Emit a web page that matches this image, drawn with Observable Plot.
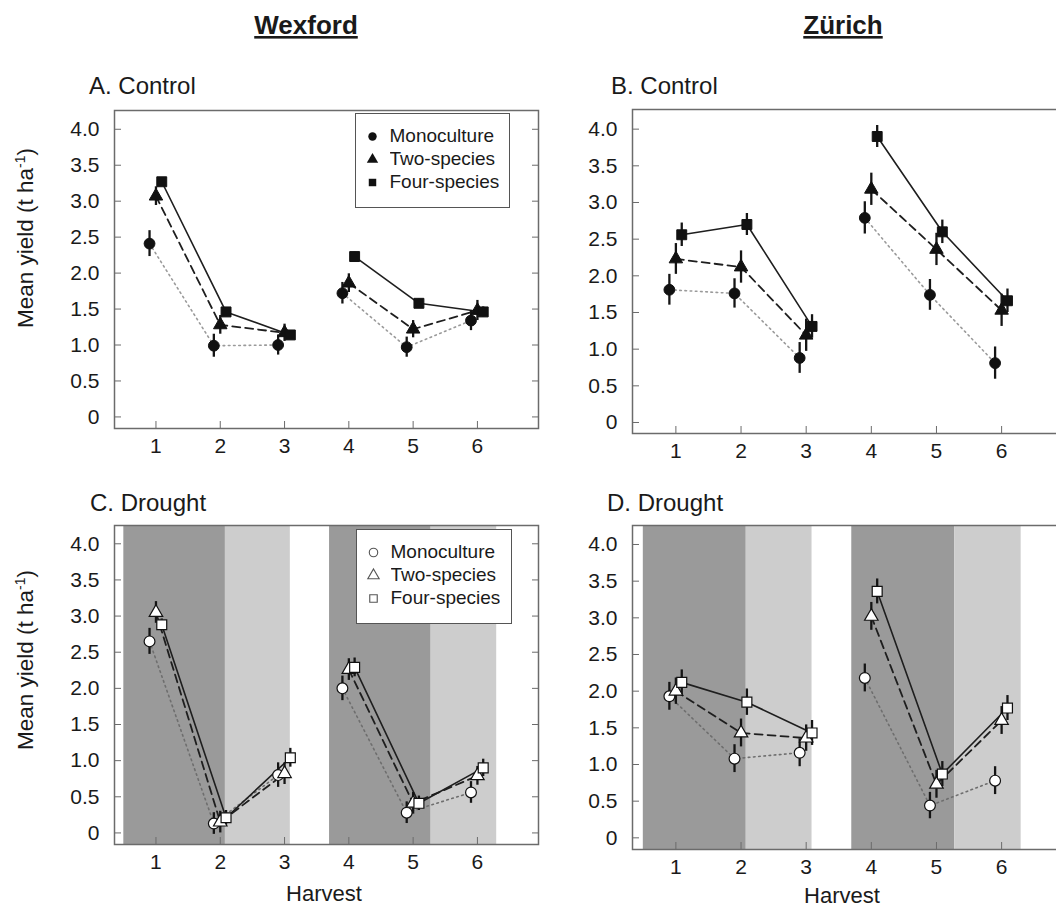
<!DOCTYPE html>
<html>
<head>
<meta charset="utf-8">
<script src="https://cdn.jsdelivr.net/npm/d3@7"></script>
<script src="https://cdn.jsdelivr.net/npm/@observablehq/plot@0.6"></script>
<style>
  html, body { margin: 0; padding: 0; background: #fff; }
  #wrap { position: relative; width: 1056px; height: 911px; overflow: hidden; background: #fff;
          font-family: "Liberation Sans", Arial, sans-serif; color: #1a1a1a; }
  .panel { position: absolute; }
  .panel svg { max-width: none !important; display: block; }
  .legend { position: absolute; box-sizing: border-box; border: 1.5px solid #555; background: #fff;
            padding: 11px 0 0 9px; }
  #labels { position: absolute; left: 0; top: 0; pointer-events: none; }
</style>
</head>
<body>
<div id="wrap">
  <div class="panel" id="pA" style="left:0px;top:100px;width:540px"></div>
  <div class="panel" id="pB" style="left:520px;top:100px;width:545px"></div>
  <div class="panel" id="pC" style="left:0px;top:515px;width:540px"></div>
  <div class="panel" id="pD" style="left:520px;top:515px;width:545px"></div>
  <div class="legend" id="legA" style="left:355px;top:113px;width:155px;height:95px"></div>
  <div class="legend" id="legC" style="left:356px;top:529px;width:156px;height:95px"></div>
  <svg id="labels" width="1056" height="911" font-family="Liberation Sans, Arial, sans-serif" fill="#1a1a1a">
    <text x="306" y="34" text-anchor="middle" font-size="26" font-weight="bold" text-decoration="underline">Wexford</text>
    <text x="843" y="34" text-anchor="middle" font-size="26" font-weight="bold" text-decoration="underline">Zürich</text>
    <text x="89" y="94" font-size="24">A. Control</text>
    <text x="611" y="94" font-size="24">B. Control</text>
    <text x="90" y="511" font-size="24">C. Drought</text>
    <text x="607" y="511" font-size="24">D. Drought</text>
    <text transform="translate(33,238) rotate(-90)" text-anchor="middle" font-size="22.5">Mean yield (t ha<tspan baseline-shift="super" font-size="14">-1</tspan>)</text>
    <text transform="translate(33,660) rotate(-90)" text-anchor="middle" font-size="22.5">Mean yield (t ha<tspan baseline-shift="super" font-size="14">-1</tspan>)</text>
    <text x="324" y="901" text-anchor="middle" font-size="22">Harvest</text>
    <text x="842" y="903" text-anchor="middle" font-size="22">Harvest</text>
  </svg>
</div>
<script>
// ---------- data ----------
const harvests = [1, 2, 3, 4, 5, 6];
const year = [1, 1, 1, 2, 2, 2];
const seriesNames = ["Monoculture", "Two-species", "Four-species"];
const yTicks = [0, 0.5, 1, 1.5, 2, 2.5, 3, 3.5, 4];
const yTickLabels = ["0", "0.5", "1.0", "1.5", "2.0", "2.5", "3.0", "3.5", "4.0"];

// A. Wexford control
const wexCtrlMono = [2.41, 0.99, 1.00, 1.72, 0.97, 1.34];
const wexCtrlTwo  = [3.07, 1.28, 1.17, 1.86, 1.22, 1.48];
const wexCtrlFour = [3.27, 1.46, 1.14, 2.23, 1.58, 1.46];
const wexCtrlMonoSE = [0.18, 0.16, 0.14, 0.15, 0.14, 0.14];
const wexCtrlTwoSE  = [0.13, 0.13, 0.12, 0.13, 0.12, 0.14];
const wexCtrlFourSE = [0.05, 0.06, 0.06, 0.06, 0.06, 0.07];

// B. Zürich control
const zurCtrlMono = [1.81, 1.76, 0.88, 2.79, 1.74, 0.81];
const zurCtrlTwo  = [2.23, 2.12, 1.19, 3.18, 2.36, 1.53];
const zurCtrlFour = [2.56, 2.70, 1.31, 3.90, 2.60, 1.66];
const zurCtrlMonoSE = [0.21, 0.20, 0.21, 0.22, 0.21, 0.22];
const zurCtrlTwoSE  = [0.21, 0.22, 0.22, 0.22, 0.22, 0.22];
const zurCtrlFourSE = [0.16, 0.15, 0.16, 0.15, 0.16, 0.16];

// C. Wexford drought
const wexDrMono = [2.65, 0.13, 0.80, 2.00, 0.28, 0.56];
const wexDrTwo  = [3.05, 0.15, 0.82, 2.26, 0.41, 0.79];
const wexDrFour = [2.88, 0.21, 1.04, 2.29, 0.41, 0.90];
const wexDrMonoSE = [0.18, 0.15, 0.17, 0.17, 0.15, 0.15];
const wexDrTwoSE  = [0.15, 0.15, 0.15, 0.15, 0.15, 0.13];
const wexDrFourSE = [0.08, 0.10, 0.13, 0.13, 0.10, 0.12];

// D. Zürich drought
const zurDrMono = [1.93, 1.08, 1.16, 2.18, 0.44, 0.78];
const zurDrTwo  = [2.00, 1.43, 1.36, 3.02, 0.73, 1.60];
const zurDrFour = [2.12, 1.85, 1.43, 3.36, 0.87, 1.77];
const zurDrMonoSE = [0.19, 0.19, 0.19, 0.19, 0.18, 0.19];
const zurDrTwoSE  = [0.18, 0.19, 0.18, 0.19, 0.19, 0.19];
const zurDrFourSE = [0.17, 0.18, 0.17, 0.17, 0.17, 0.17];

// drought shading periods (harvest units)
const shadeStart = [0.5, 2.08, 3.7, 5.28];
const shadeEnd   = [2.08, 3.09, 5.28, 6.3];
const shadeKind  = ["dark", "light", "dark", "light"];

// ---------- drawing ----------
const dodge = [-0.1, 0, 0.09];
const symbols = ["circle", "triangle", "square"];
const symR = [5.4, 5.0, 5.6];
const FONT = "Liberation Sans, Arial, sans-serif";

function rowsFor(vals, ses) {
  return seriesNames.flatMap((s, k) => harvests.map((h, i) => ({
    series: s, k, harvest: h, year: year[i], v: vals[k][i], se: ses[k][i]
  })));
}

function panel(opts) {
  const {vals, ses, drought, xDomain, yDomain, width, height, marginLeft, marginRight, marginTop, marginBottom} = opts;
  const rows = rowsFor(vals, ses);
  const X = d => d.harvest + dodge[d.k];
  const shades = shadeStart.map((s, i) => ({start: s, end: shadeEnd[i], kind: shadeKind[i]}));
  const lineStyles = [
    {stroke: drought ? "#6e6e6e" : "#9a9a9a", strokeDasharray: "1.6,3.6", strokeWidth: 1.6},
    {stroke: "#1e1e1e", strokeDasharray: "8,5", strokeWidth: 1.8},
    {stroke: "#1e1e1e", strokeWidth: 1.6}
  ];
  const marks = [];
  if (drought) {
    marks.push(Plot.rect(shades.filter(d => d.kind === "dark"), {x1: "start", x2: "end", fill: "#9a9a9a"}));
    marks.push(Plot.rect(shades.filter(d => d.kind === "light"), {x1: "start", x2: "end", fill: "#cdcdcd"}));
  }
  for (let k = 0; k < 3; k++) {
    marks.push(Plot.line(rows.filter(d => d.k === k), {x: X, y: "v", z: "year", ...lineStyles[k]}));
  }
  marks.push(Plot.ruleX(rows, {x: X, y1: d => d.v - d.se, y2: d => d.v + d.se, stroke: "#151515", strokeWidth: 2.3}));
  for (let k = 0; k < 3; k++) {
    marks.push(Plot.dot(rows.filter(d => d.k === k), {
      x: X, y: "v", symbol: symbols[k], r: symR[k],
      fill: drought ? "white" : "#111", stroke: "#111", strokeWidth: drought ? 1.2 : 1
    }));
  }
  marks.push(Plot.frame({stroke: "#6b6b6b", strokeWidth: 1.5}));
  marks.push(Plot.axisY({ticks: yTicks, tickSize: -7, tickPadding: 22, stroke: "#6b6b6b",
    tickFormat: d => yTickLabels[yTicks.indexOf(d)], label: null}));
  marks.push(Plot.axisY({anchor: "right", ticks: yTicks, tickSize: -7, stroke: "#6b6b6b",
    tickFormat: () => "", label: null}));
  marks.push(Plot.axisX({ticks: harvests, tickSize: -7, tickPadding: 17, stroke: "#6b6b6b",
    tickFormat: d => String(d), label: null}));
  return Plot.plot({
    width, height, marginLeft, marginRight, marginTop, marginBottom,
    x: {domain: xDomain},
    y: {domain: yDomain},
    style: {fontFamily: FONT, fontSize: "21px", color: "#1a1a1a", background: "transparent", overflow: "visible", maxWidth: "none"},
    marks
  });
}

const xL = [0.355, 6.95];
const xR = [0.334, 6.95];

document.getElementById("pA").appendChild(panel({
  vals: [wexCtrlMono, wexCtrlTwo, wexCtrlFour], ses: [wexCtrlMonoSE, wexCtrlTwoSE, wexCtrlFourSE],
  drought: false, xDomain: xL, yDomain: [-0.161, 4.261],
  width: 540, height: 370, marginLeft: 114, marginRight: 2, marginTop: 10, marginBottom: 42
}));
document.getElementById("pB").appendChild(panel({
  vals: [zurCtrlMono, zurCtrlTwo, zurCtrlFour], ses: [zurCtrlMonoSE, zurCtrlTwoSE, zurCtrlFourSE],
  drought: false, xDomain: xR, yDomain: [-0.150, 4.268],
  width: 545, height: 375, marginLeft: 112, marginRight: 2, marginTop: 9, marginBottom: 42
}));
document.getElementById("pC").appendChild(panel({
  vals: [wexDrMono, wexDrTwo, wexDrFour], ses: [wexDrMonoSE, wexDrTwoSE, wexDrFourSE],
  drought: true, xDomain: xL, yDomain: [-0.160, 4.253],
  width: 540, height: 396, marginLeft: 114, marginRight: 2, marginTop: 10, marginBottom: 67
}));
document.getElementById("pD").appendChild(panel({
  vals: [zurDrMono, zurDrTwo, zurDrFour], ses: [zurDrMonoSE, zurDrTwoSE, zurDrFourSE],
  drought: true, xDomain: xR, yDomain: [-0.159, 4.259],
  width: 545, height: 396, marginLeft: 112, marginRight: 2, marginTop: 10, marginBottom: 62
}));

function legend(drought) {
  return Plot.legend({
    symbol: {domain: seriesNames, range: symbols},
    fill: drought ? "white" : "#111",
    stroke: drought ? "#555" : "none",
    strokeWidth: 1.2,
    r: 4.5,
    columns: 1,
    swatchSize: 15,
    style: {fontFamily: FONT, fontSize: "19px", color: "#1a1a1a", margin: "0", lineHeight: "22px"}
  });
}
document.getElementById("legA").appendChild(legend(false));
document.getElementById("legC").appendChild(legend(true));
</script>
</body>
</html>
